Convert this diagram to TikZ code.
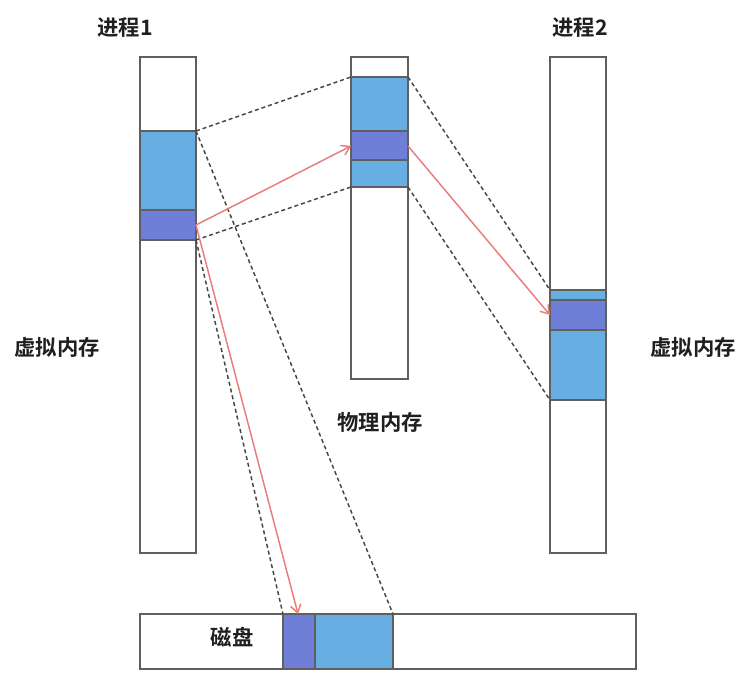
\documentclass[tikz,border=0pt]{standalone}
\usepackage{fontspec}
\newfontfamily\cjk{Noto Sans CJK SC}[BoldFont={Noto Sans CJK SC Bold}]
\usetikzlibrary{arrows.meta}
\definecolor{blk}{HTML}{67AFE3}
\definecolor{pur}{HTML}{6F7FD8}
\definecolor{edge}{HTML}{5F5F5F}
\definecolor{redc}{HTML}{EA7C7C}
\definecolor{dsh}{HTML}{454545}
\tikzset{
  col/.style={draw=edge, line width=1.2pt, fill=white},
  bluebox/.style={draw=edge, line width=1.2pt, fill=blk},
  purbox/.style={draw=edge, line width=1.2pt, fill=pur},
  lbl/.style={font=\cjk\bfseries\fontsize{16pt}{19pt}\selectfont, text=black!88},
  dashln/.style={draw=dsh, line width=1.1pt, dash pattern=on 3pt off 2.2pt},
  redarr/.style={draw=redc, line width=1.1pt, -{Straight Barb[length=6pt,width=8pt]}}
}
\begin{document}
\begin{tikzpicture}[x=0.75pt,y=-0.75pt]
\useasboundingbox (0,0) rectangle (742,677);
% process 1
\draw[col] (140,57) rectangle (196,553);
\draw[bluebox] (140,131) rectangle (196,210);
\draw[purbox] (140,210) rectangle (196,240);
% physical
\draw[col] (351,57) rectangle (408,379);
\draw[bluebox] (351,77) rectangle (408,131);
\draw[purbox] (351,131) rectangle (408,160);
\draw[bluebox] (351,160) rectangle (408,187);
% process 2
\draw[col] (550,57) rectangle (606,553);
\draw[bluebox] (550,290) rectangle (606,400);
\draw[purbox] (550,300) rectangle (606,330);
% disk
\draw[col] (140,614) rectangle (636,669);
\draw[purbox] (283,614) rectangle (315,669);
\draw[bluebox] (315,614) rectangle (393,669);

% coordinates
\coordinate (p1top) at (196,131);
\coordinate (p1bot) at (196,240);
\coordinate (p1mid) at (196,225);
\coordinate (phtopL) at (351,77);
\coordinate (phbotL) at (351,187);
\coordinate (phmidL) at (351,146);
\coordinate (phtopR) at (408,77);
\coordinate (phbotR) at (408,187);
\coordinate (phmidR) at (408,146);
\coordinate (p2top) at (550,290);
\coordinate (p2bot) at (550,400);
\coordinate (p2mid) at (550,315);
\coordinate (dkL) at (283,614);
\coordinate (dkR) at (393,614);
\coordinate (dkmid) at (298,614);

% dashed
\draw[dashln] (p1top) -- (phtopL);
\draw[dashln] (p1bot) -- (phbotL);
\draw[dashln] (phtopR) -- (p2top);
\draw[dashln] (phbotR) -- (p2bot);
\draw[dashln] (p1top) -- (dkR);
\draw[dashln] (p1bot) -- (dkL);

% red arrows
\draw[redarr] (p1mid) -- (phmidL);
\draw[redarr] (phmidR) -- (p2mid);
\draw[redarr] (p1mid) -- (dkmid);

% labels
\node[lbl] (l1) at (125,28) {进程1};
\node[lbl] (l2) at (580,28) {进程2};
\node[lbl] (v1) at (57,347) {虚拟内存};
\node[lbl] (v2) at (693,347) {虚拟内存};
\node[lbl] (ph) at (380,422) {物理内存};
\node[lbl] (dk) at (232,637) {磁盘};
\end{tikzpicture}
\end{document}
